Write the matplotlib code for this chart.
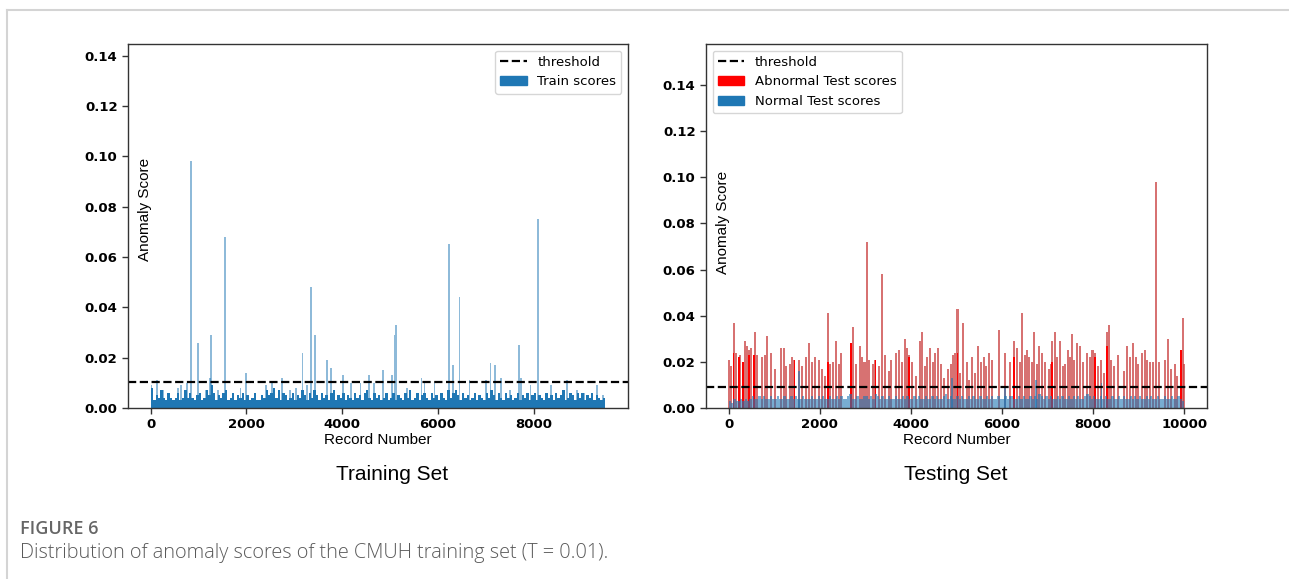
import numpy as np
import matplotlib
matplotlib.use("Agg")
import matplotlib.pyplot as plt
from matplotlib.patches import Patch
from matplotlib.lines import Line2D

# ---------------------------------------------------------------
# Data (records vs anomaly score)
TRAIN_N = 9500
TRAIN_THRESHOLD = 0.0104
TEST_N = 10000
TEST_THRESHOLD = 0.0091

# train: dense floor, one value per 50 records
train_base = [
    0.008, 0.003, 0.005, 0.004, 0.007, 0.004, 0.003, 0.006, 0.004, 0.003,
    0.004, 0.006, 0.003, 0.004, 0.007, 0.004, 0.006, 0.004, 0.003, 0.005,
    0.006, 0.003, 0.004, 0.007, 0.005, 0.009, 0.006, 0.003, 0.005, 0.004,
    0.006, 0.007, 0.003, 0.004, 0.006, 0.003, 0.005, 0.004, 0.006, 0.003,
    0.005, 0.003, 0.004, 0.006, 0.003, 0.003, 0.005, 0.004, 0.007, 0.005,
    0.006, 0.008, 0.004, 0.007, 0.003, 0.006, 0.005, 0.003, 0.004, 0.006,
    0.003, 0.005, 0.004, 0.007, 0.005, 0.003, 0.006, 0.004, 0.007, 0.005,
    0.003, 0.006, 0.004, 0.005, 0.003, 0.006, 0.007, 0.003, 0.005, 0.004,
    0.006, 0.003, 0.005, 0.004, 0.003, 0.006, 0.004, 0.005, 0.003, 0.006,
    0.007, 0.004, 0.003, 0.006, 0.004, 0.005, 0.003, 0.004, 0.006, 0.003,
    0.004, 0.006, 0.003, 0.005, 0.004, 0.003, 0.006, 0.004, 0.007, 0.003,
    0.004, 0.006, 0.003, 0.005, 0.006, 0.004, 0.003, 0.006, 0.004, 0.005,
    0.003, 0.006, 0.004, 0.003, 0.007, 0.004, 0.006, 0.007, 0.005, 0.003,
    0.006, 0.004, 0.005, 0.003, 0.004, 0.006, 0.003, 0.005, 0.004, 0.003,
    0.006, 0.004, 0.007, 0.005, 0.003, 0.006, 0.004, 0.003, 0.006, 0.004,
    0.005, 0.003, 0.004, 0.006, 0.003, 0.005, 0.004, 0.006, 0.003, 0.005,
    0.006, 0.003, 0.005, 0.004, 0.003, 0.006, 0.004, 0.005, 0.003, 0.006,
    0.004, 0.005, 0.007, 0.003, 0.004, 0.006, 0.005, 0.003, 0.006, 0.004,
    0.006, 0.003, 0.005, 0.004, 0.006, 0.003, 0.005, 0.004, 0.003, 0.004,
]

# train: individual records standing out of the floor
train_spike_pos = [
    15, 139, 255, 564, 641, 757, 849, 988, 1143, 1243, 1258, 1413, 1552,
    1876, 1992, 2416, 2532, 2571, 2741, 2918, 3034, 3173, 3266, 3358, 3428,
    3690, 3767, 4022, 4192, 4385, 4563, 4671, 4856, 5041, 5095, 5126, 5350,
    5659, 5720, 5929, 6238, 6315, 6454, 6662, 7010, 7102, 7203, 7319, 7512,
    7705, 7743, 7936, 8098, 8360, 8708, 8901, 9056, 9326, 9457,
]
train_spike_val = [
    0.009, 0.011, 0.007, 0.008, 0.009, 0.010, 0.098, 0.026, 0.007, 0.012,
    0.029, 0.007, 0.068, 0.008, 0.014, 0.009, 0.010, 0.008, 0.012, 0.007,
    0.008, 0.022, 0.009, 0.048, 0.029, 0.019, 0.016, 0.013, 0.010, 0.010,
    0.013, 0.010, 0.015, 0.013, 0.029, 0.033, 0.008, 0.012, 0.010, 0.010,
    0.065, 0.017, 0.044, 0.011, 0.011, 0.018, 0.017, 0.012, 0.007, 0.025,
    0.012, 0.009, 0.075, 0.009, 0.011, 0.007, 0.006, 0.009, 0.005,
]

# test: normal records, one value per 50 records
test_base = [
    0.003, 0.002, 0.004, 0.003, 0.003, 0.004, 0.003, 0.004, 0.003, 0.004,
    0.005, 0.004, 0.004, 0.005, 0.004, 0.005, 0.004, 0.004, 0.005, 0.004,
    0.004, 0.005, 0.004, 0.004, 0.005, 0.004, 0.004, 0.005, 0.004, 0.005,
    0.004, 0.004, 0.005, 0.004, 0.004, 0.004, 0.005, 0.004, 0.004, 0.005,
    0.004, 0.005, 0.004, 0.004, 0.005, 0.004, 0.004, 0.005, 0.004, 0.005,
    0.004, 0.004, 0.005, 0.006, 0.004, 0.004, 0.005, 0.004, 0.004, 0.005,
    0.005, 0.004, 0.005, 0.004, 0.006, 0.005, 0.004, 0.005, 0.004, 0.004,
    0.005, 0.004, 0.004, 0.005, 0.004, 0.004, 0.005, 0.004, 0.005, 0.004,
    0.004, 0.005, 0.004, 0.005, 0.004, 0.004, 0.005, 0.004, 0.004, 0.005,
    0.004, 0.005, 0.004, 0.004, 0.005, 0.006, 0.004, 0.005, 0.004, 0.004,
    0.005, 0.004, 0.005, 0.004, 0.004, 0.005, 0.004, 0.005, 0.004, 0.004,
    0.005, 0.004, 0.004, 0.005, 0.004, 0.005, 0.004, 0.004, 0.005, 0.004,
    0.004, 0.005, 0.004, 0.005, 0.005, 0.004, 0.004, 0.005, 0.004, 0.005,
    0.004, 0.004, 0.005, 0.004, 0.005, 0.004, 0.006, 0.005, 0.004, 0.005,
    0.004, 0.005, 0.004, 0.004, 0.005, 0.004, 0.005, 0.004, 0.004, 0.005,
    0.004, 0.005, 0.004, 0.005, 0.004, 0.004, 0.005, 0.006, 0.005, 0.004,
    0.005, 0.004, 0.004, 0.005, 0.004, 0.005, 0.004, 0.004, 0.005, 0.004,
    0.004, 0.005, 0.004, 0.005, 0.004, 0.004, 0.005, 0.004, 0.005, 0.004,
    0.005, 0.004, 0.004, 0.005, 0.004, 0.005, 0.004, 0.004, 0.005, 0.004,
    0.004, 0.005, 0.004, 0.004, 0.005, 0.004, 0.004, 0.005, 0.004, 0.003,
]

# test: normal records above the floor
test_normal_spike_pos = [1538, 4902, 6064, 6744, 8186]
test_normal_spike_val = [0.016, 0.013, 0.009, 0.012, 0.011]

# test: abnormal records
abn_pos = [
    0, 56, 104, 152, 216, 256, 320, 360, 400, 441, 497, 545, 577, 625, 721,
    801, 849, 921, 1017, 1153, 1202, 1258, 1338, 1386, 1442, 1538, 1602,
    1698, 1754, 1818, 1898, 1978, 2051, 2115, 2179, 2227, 2299, 2355, 2411,
    2459, 2675, 2723, 2795, 2876, 2924, 2980, 3036, 3076, 3156, 3220, 3300,
    3356, 3428, 3508, 3564, 3677, 3741, 3797, 3861, 3909, 3957, 4021, 4109,
    4205, 4245, 4301, 4357, 4422, 4478, 4534, 4598, 4662, 4726, 4806, 4870,
    4926, 4966, 5022, 5078, 5150, 5223, 5279, 5343, 5407, 5463, 5543, 5599,
    5655, 5719, 5783, 5927, 6064, 6184, 6264, 6320, 6384, 6440, 6504, 6552,
    6584, 6664, 6712, 6760, 6809, 6873, 6945, 7025, 7065, 7097, 7161, 7209,
    7265, 7337, 7385, 7449, 7489, 7545, 7585, 7650, 7722, 7786, 7866, 7930,
    7986, 8042, 8106, 8162, 8242, 8306, 8346, 8403, 8451, 8547, 8667, 8747,
    8811, 8867, 8931, 8987, 9083, 9131, 9187, 9251, 9308, 9388, 9436, 9588,
    9644, 9708, 9788, 9844, 9932, 9964, 9996,
]
abn_val = [
    0.021, 0.018, 0.037, 0.024, 0.022, 0.023, 0.020, 0.029, 0.027, 0.025,
    0.026, 0.022, 0.033, 0.023, 0.022, 0.023, 0.031, 0.024, 0.017, 0.026,
    0.026, 0.018, 0.019, 0.022, 0.021, 0.021, 0.018, 0.022, 0.028, 0.020,
    0.022, 0.021, 0.017, 0.014, 0.041, 0.019, 0.020, 0.029, 0.019, 0.024,
    0.028, 0.035, 0.019, 0.027, 0.022, 0.020, 0.072, 0.021, 0.019, 0.021,
    0.018, 0.058, 0.023, 0.016, 0.021, 0.024, 0.025, 0.020, 0.030, 0.026,
    0.023, 0.020, 0.014, 0.029, 0.033, 0.018, 0.022, 0.026, 0.020, 0.024,
    0.026, 0.019, 0.013, 0.017, 0.019, 0.023, 0.024, 0.043, 0.015, 0.037,
    0.020, 0.012, 0.022, 0.015, 0.027, 0.020, 0.022, 0.018, 0.024, 0.021,
    0.034, 0.024, 0.020, 0.029, 0.026, 0.020, 0.041, 0.023, 0.025, 0.022,
    0.020, 0.033, 0.019, 0.027, 0.024, 0.020, 0.017, 0.019, 0.029, 0.033,
    0.022, 0.029, 0.018, 0.019, 0.025, 0.022, 0.032, 0.021, 0.028, 0.027,
    0.020, 0.024, 0.022, 0.025, 0.024, 0.018, 0.021, 0.015, 0.033, 0.036,
    0.021, 0.018, 0.023, 0.016, 0.027, 0.022, 0.028, 0.022, 0.019, 0.024,
    0.025, 0.021, 0.020, 0.020, 0.098, 0.020, 0.021, 0.030, 0.017, 0.019,
    0.014, 0.025, 0.039, 0.019,
]
# abnormal records packed close enough to render solid red
abn_dense_pos = [104, 216, 320, 441, 545, 1442, 2179, 2675, 3220, 3957,
                 5022, 6264, 7097, 8042, 8306, 9932]
abn_dense_val = [0.024, 0.022, 0.020, 0.023, 0.023, 0.021, 0.020, 0.028,
                 0.021, 0.022, 0.024, 0.022, 0.020, 0.022, 0.027, 0.025]

BLUE = "#1f77b4"

plt.rcParams["font.family"] = ["DejaVu Sans"]

fig = plt.figure(figsize=(12.89, 5.79), dpi=100)

# page border lines (top and left)
fig.add_artist(Line2D([7 / 1289, 1], [1 - 10 / 579, 1 - 10 / 579],
                      color="#d4d4d4", lw=1.5, transform=fig.transFigure))
fig.add_artist(Line2D([7 / 1289, 7 / 1289], [0, 1 - 10 / 579],
                      color="#d4d4d4", lw=1.5, transform=fig.transFigure))

ax1 = fig.add_axes([128 / 1289, 1 - 408 / 579, 500 / 1289, 364 / 579])
ax2 = fig.add_axes([706 / 1289, 1 - 408 / 579, 501 / 1289, 364 / 579])


def style_axis(ax, label_y):
    for sp in ax.spines.values():
        sp.set_color("#333333")
        sp.set_linewidth(1.0)
    ax.tick_params(length=4, width=1, color="#333333", labelsize=9.5)
    for lbl in ax.get_xticklabels() + ax.get_yticklabels():
        lbl.set_fontweight("bold")
    ax.set_xlabel("Record Number", family="Liberation Sans", fontsize=11,
                  labelpad=1)
    ax.text(0.034, label_y, "Anomaly Score", transform=ax.transAxes,
            rotation=90, ha="center", va="center",
            family="Liberation Sans", fontsize=11)


# ---- training set
base_x = np.arange(len(train_base)) * 50
ax1.bar(base_x, train_base, width=50, align="edge", color=BLUE, linewidth=0)
ax1.bar(train_spike_pos, train_spike_val, width=38, color=BLUE, alpha=0.5,
        linewidth=0)
ax1.axhline(TRAIN_THRESHOLD, color="black", ls="--", lw=1.6)
ax1.set_xlim(-0.05 * TRAIN_N, 1.05 * TRAIN_N)
ax1.set_ylim(0, 0.1446)
ax1.set_xticks([0, 2000, 4000, 6000, 8000])
ax1.set_yticks(np.arange(0, 0.141, 0.02))
ax1.yaxis.set_major_formatter(matplotlib.ticker.FormatStrFormatter("%.2f"))
style_axis(ax1, 0.545)
ax1.legend(handles=[Line2D([], [], color="black", ls="--", lw=1.6),
                    Patch(color=BLUE)],
           labels=["threshold", "Train scores"], loc="upper right",
           fontsize=9.5)

# ---- testing set
ax2.bar(abn_pos, abn_val, width=44, color="#c83c3c", alpha=0.72, linewidth=0)
ax2.bar(abn_dense_pos, abn_dense_val, width=40, color="red", linewidth=0)
tb_x = np.arange(len(test_base)) * 50
ax2.bar(tb_x, test_base, width=50, align="edge", color=BLUE, alpha=0.6,
        linewidth=0)
ax2.bar(test_normal_spike_pos, test_normal_spike_val, width=30, color=BLUE,
        alpha=0.6, linewidth=0)
ax2.axhline(TEST_THRESHOLD, color="black", ls="--", lw=1.6)
ax2.set_xlim(-0.05 * TEST_N, 1.05 * TEST_N)
ax2.set_ylim(0, 0.1578)
ax2.set_xticks([0, 2000, 4000, 6000, 8000, 10000])
ax2.set_yticks(np.arange(0, 0.141, 0.02))
ax2.yaxis.set_major_formatter(matplotlib.ticker.FormatStrFormatter("%.2f"))
style_axis(ax2, 0.51)
ax2.legend(handles=[Line2D([], [], color="black", ls="--", lw=1.6),
                    Patch(color="red"), Patch(color=BLUE)],
           labels=["threshold", "Abnormal Test scores", "Normal Test scores"],
           loc="upper left", fontsize=9.5)

# panel titles
fig.text(392 / 1289, 1 - 474 / 579, "Training Set", ha="center", va="center",
         family="Liberation Sans", fontsize=15)
fig.text(956 / 1289, 1 - 474 / 579, "Testing Set", ha="center", va="center",
         family="Liberation Sans", fontsize=15)

# caption
fig.text(20 / 1289, 1 - 529 / 579, "FIGURE 6", ha="left", va="center",
         family="Open Sans", fontsize=13, color="#666666",
         fontweight="semibold")
fig.text(20 / 1289, 1 - 553 / 579,
         "Distribution of anomaly scores of the CMUH training set (T = 0.01).",
         ha="left", va="center", family="Open Sans", fontsize=14.3,
         color="#5a5a5a", fontweight="light")

fig.savefig("out.png", dpi=100)
